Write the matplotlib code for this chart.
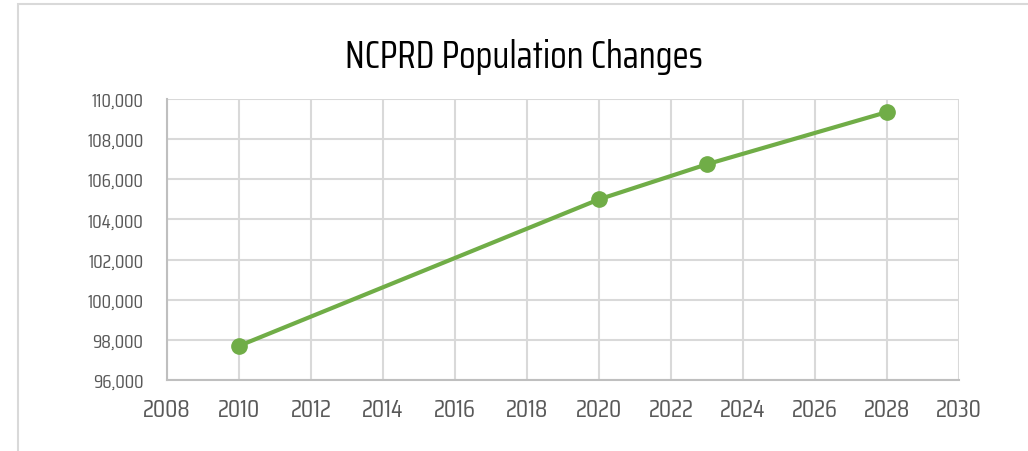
import matplotlib
matplotlib.use("Agg")
import matplotlib.pyplot as plt
from matplotlib import font_manager
from matplotlib.patches import Rectangle
from matplotlib.ticker import FuncFormatter, MultipleLocator

years = [2010, 2020, 2023, 2028]
population = [97700, 105000, 106750, 109350]
title = "NCPRD Population Changes"

names = {f.name for f in font_manager.fontManager.ttflist}
prefs = ["Saira Extra Condensed", "Saira Condensed", "Antonio", "Pathway Gothic One",
         "Barlow Condensed", "Liberation Sans Narrow", "DejaVu Sans"]
fam = next(p for p in prefs if p in names)
plt.rcParams["font.family"] = [fam, "DejaVu Sans"]

W, H = 1028, 452
fig = plt.figure(figsize=(W / 100, H / 100), dpi=100)
fig.patch.set_facecolor("white")

# outer chart border
fig.add_artist(Rectangle((18 / W, -0.1), 1.2, 1 - 5 / H + 0.1, transform=fig.transFigure,
                         fill=False, edgecolor="#d9d9d9", linewidth=1.5))

ax = fig.add_axes([167 / W, 1 - 381 / H, (959 - 167) / W, (381 - 100) / H])
ax.plot(years, population, color="#70ad47", linewidth=3, marker="o", markersize=11,
        markerfacecolor="#70ad47", markeredgecolor="#70ad47", zorder=3, clip_on=False)

ax.set_xlim(2008, 2030)
ax.set_ylim(96000, 110000)
ax.xaxis.set_major_locator(MultipleLocator(2))
ax.yaxis.set_major_locator(MultipleLocator(2000))
ax.yaxis.set_major_formatter(FuncFormatter(lambda v, p: f"{int(v):,}"))

ax.grid(True, color="#d9d9d9", linewidth=1.5)
ax.set_axisbelow(True)
for s in ["top", "right"]:
    ax.spines[s].set_visible(False)
for s in ["left", "bottom"]:
    ax.spines[s].set_color("#bfbfbf")
    ax.spines[s].set_linewidth(1.5)
ax.tick_params(axis="both", length=0, colors="#595959")
ax.tick_params(axis="x", labelsize=18, pad=12)
ax.tick_params(axis="y", labelsize=14, pad=17)

fig.text(524 / W, 1 - 57 / H, title, ha="center", va="center", fontsize=27,
         color="black")

fig.savefig("out.png", dpi=100)
